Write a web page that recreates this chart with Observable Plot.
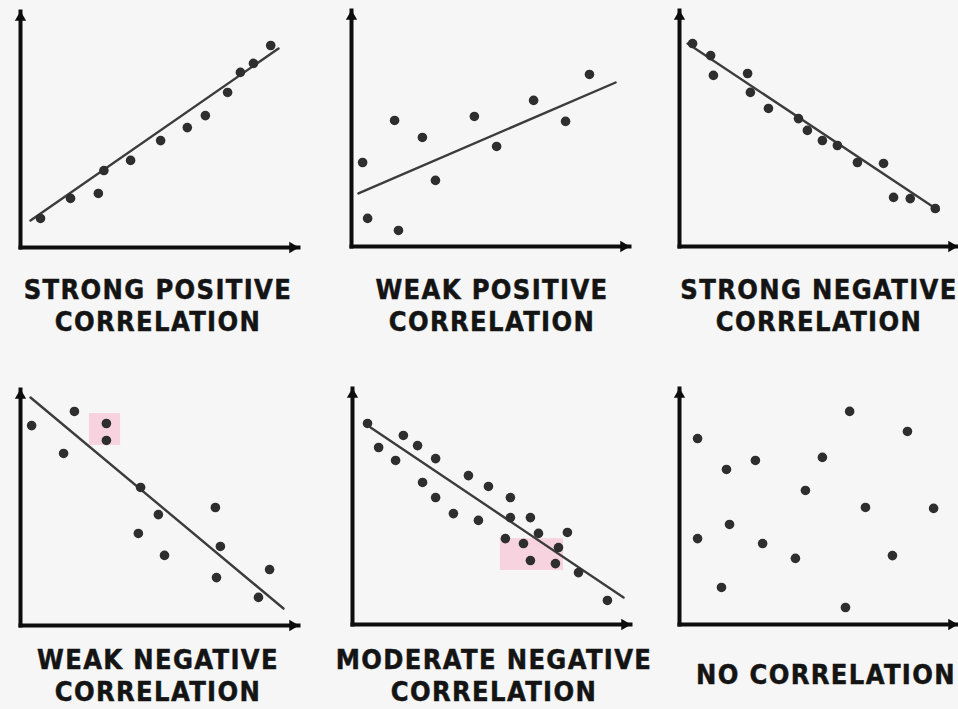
<!DOCTYPE html>
<html><head><meta charset="utf-8">
<script src="https://cdn.jsdelivr.net/npm/d3@7"></script>
<script src="https://cdn.jsdelivr.net/npm/@observablehq/plot@0.6"></script>
<style>
body{margin:0;background:#f6f6f6;}
#chart{position:relative;width:958px;height:709px;background:#f6f6f6;overflow:hidden;font-family:"DejaVu Sans",sans-serif;}
.panel{position:absolute;}
.label{position:absolute;text-align:center;font-weight:bold;font-size:27px;letter-spacing:1.5px;color:#141414;-webkit-text-stroke:0.5px #141414;line-height:32px;white-space:nowrap;transform:translateX(-50%) scaleX(0.9);}
</style></head><body><div id="chart"></div>
<script>
// ---- Data (x, y in arbitrary 0–10 units) ----
const titles = [
  ["STRONG POSITIVE", "CORRELATION"],
  ["WEAK POSITIVE", "CORRELATION"],
  ["STRONG NEGATIVE", "CORRELATION"],
  ["WEAK NEGATIVE", "CORRELATION"],
  ["MODERATE NEGATIVE", "CORRELATION"],
  ["NO CORRELATION"]
];

const strongPositive = [[0.72,1.23],[1.8,2.08],[2.8,2.29],[3.0,3.26],[3.96,3.69],[5.04,4.53],[6.0,5.08],[6.65,5.59],[7.45,6.57],[7.91,7.42],[8.38,7.8],[9.0,8.56]];
const strongPositiveTrend = [[0.36,1.14],[9.28,8.43]];

const weakPositive = [[0.40,3.56],[0.58,1.19],[1.55,5.34],[1.69,0.68],[2.55,4.62],[3.02,2.80],[4.42,5.51],[5.22,4.24],[6.55,6.19],[7.70,5.30],[8.56,7.29]];
const weakPositiveTrend = [[0.25,2.25],[9.5,6.95]];

const strongNegative = [[0.47,8.60],[1.12,8.09],[1.22,7.25],[2.45,7.33],[2.55,6.53],[3.2,5.85],[4.28,5.42],[4.6,4.92],[5.14,4.49],[5.68,4.28],[6.4,3.56],[7.34,3.52],[7.7,2.08],[8.3,2.03],[9.2,1.61]];
const strongNegativeTrend = [[0.29,8.6],[9.32,1.53]];

const weakNegative = [[0.40,8.47],[1.94,9.07],[1.55,7.29],[3.09,8.56],[3.09,7.84],[4.32,5.85],[4.96,4.70],[4.24,3.90],[5.18,2.97],[7.01,5.0],[7.19,3.35],[7.05,2.03],[8.96,2.37],[8.56,1.19]];
const weakNegativeTrend = [[0.36,9.66],[9.46,0.72]];
const weakNegativeHighlight = [[2.48,3.6,7.63,8.98]];

const moderateNegative = [[0.54,8.52],[0.94,7.50],[1.83,8.01],[2.34,7.58],[1.55,6.95],[2.99,7.03],[2.52,6.02],[2.99,5.38],[4.17,6.31],[4.89,5.85],[3.63,4.70],[4.53,4.41],[5.68,5.38],[5.68,4.53],[6.40,4.53],[5.50,3.64],[6.15,3.43],[6.69,3.86],[7.73,3.90],[7.41,3.26],[6.40,2.71],[7.30,2.58],[8.13,2.20],[9.17,1.02]];
const moderateNegativeTrend = [[0.65,8.35],[9.75,1.14]];
const moderateNegativeHighlight = [[5.32,7.59,2.29,3.64]];

const noCorrelation = [[0.65,7.88],[1.69,6.57],[2.73,6.95],[0.65,3.64],[1.80,4.24],[1.51,1.57],[2.99,3.43],[4.17,2.80],[4.53,5.68],[5.14,7.08],[6.12,9.03],[5.97,0.72],[6.69,4.96],[7.66,2.92],[8.20,8.18],[9.14,4.92]];

const axisLines = [[0,0,10,0],[0,0,0,10]];
const axisHeads = [{x: 10, y: 0, angle: 90, dx: -6, dy: 0}, {x: 0, y: 10, angle: 0, dx: 0, dy: 6}];

// ---- Layout ----
const panels = [
  {pts: strongPositive, trend: strongPositiveTrend, hl: [], ox: 20, oy: 247, lx: 158, ly: 274},
  {pts: weakPositive, trend: weakPositiveTrend, hl: [], ox: 351, oy: 246, lx: 492, ly: 274},
  {pts: strongNegative, trend: strongNegativeTrend, hl: [], ox: 679, oy: 246, lx: 819, ly: 274},
  {pts: weakNegative, trend: weakNegativeTrend, hl: weakNegativeHighlight, ox: 20, oy: 625, lx: 158, ly: 644},
  {pts: moderateNegative, trend: moderateNegativeTrend, hl: moderateNegativeHighlight, ox: 352, oy: 624, lx: 494, ly: 644},
  {pts: noCorrelation, trend: null, hl: [], ox: 679, oy: 624, lx: 826, ly: 659}
];

const W = 278, H = 236, M = 12;
const chart = document.getElementById("chart");

panels.forEach((p, i) => {
  const marks = [];
  if (p.hl.length) marks.push(Plot.rect(p.hl, {x1: d => d[0], x2: d => d[1], y1: d => d[2], y2: d => d[3], fill: "#f7d3e0"}));
  if (p.trend) marks.push(Plot.line(p.trend, {x: d => d[0], y: d => d[1], stroke: "#3c3c3c", strokeWidth: 2.4}));
  marks.push(Plot.dot(p.pts, {x: d => d[0], y: d => d[1], r: 4.8, fill: "#2e2e2e", stroke: "none"}));
  marks.push(Plot.link(axisLines, {x1: d => d[0], y1: d => d[1], x2: d => d[2], y2: d => d[3], stroke: "#0d0d0d", strokeWidth: 4, strokeLinecap: "square"}));
  axisHeads.forEach(h => {
    marks.push(Plot.dot([h], {x: "x", y: "y", symbol: "triangle", r: 4.2, rotate: h.angle, dx: h.dx, dy: h.dy, fill: "#0d0d0d", stroke: "none"}));
  });
  const svg = Plot.plot({
    width: W + 2 * M, height: H + 2 * M,
    marginLeft: M, marginRight: M, marginTop: M, marginBottom: M,
    x: {domain: [0, 10], axis: null},
    y: {domain: [0, 10], axis: null},
    style: {background: "transparent", overflow: "visible"},
    marks
  });
  svg.classList.add("panel");
  svg.style.left = (p.ox - M) + "px";
  svg.style.top = (p.oy - H - M) + "px";
  chart.appendChild(svg);

  const lab = document.createElement("div");
  lab.className = "label";
  lab.style.left = p.lx + "px";
  lab.style.top = p.ly + "px";
  lab.innerHTML = titles[i].join("<br>");
  chart.appendChild(lab);
});
</script></body></html>
